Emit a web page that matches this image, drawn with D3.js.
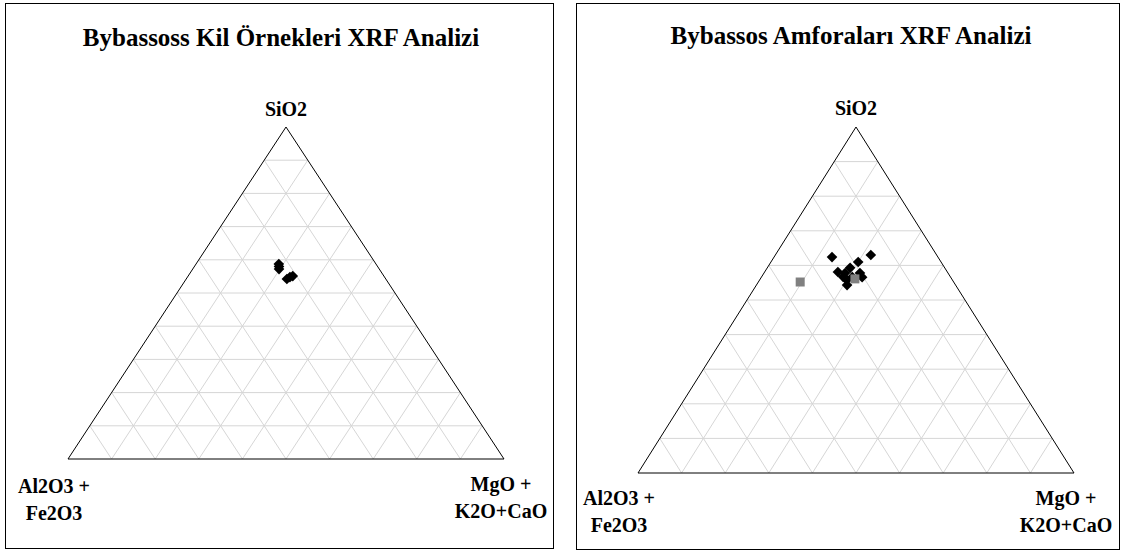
<!DOCTYPE html>
<html>
<meta charset="utf-8">
<head>
<title>Bybassos XRF ternary</title>
<script src="https://cdnjs.cloudflare.com/ajax/libs/d3/7.8.5/d3.min.js"></script>
<style>
    body { margin: 0; background: #fff; }
</style>
</head>

<body>
<script>

const width = 1123,
    height = 552;

const serif = "'Liberation Serif', 'Times New Roman', 'DejaVu Serif', serif";

// Grid steps in percent
const gridSteps = [10, 20, 30, 40, 50, 60, 70, 80, 90];

// Corner names
const topLabel = "SiO2";
const leftLabel = ["Al2O3 +", "Fe2O3"];
const rightLabel = ["MgO +", "K2O+CaO"];

// Samples as [SiO2, Al2O3+Fe2O3, MgO+K2O+CaO] in percent
const clayPoints = [
    [58.7, 22.3, 19.0],
    [58.0, 22.6, 19.4],
    [57.2, 23.0, 19.8],
    [54.8, 21.7, 23.5],
    [55.1, 20.9, 24.0],
    [54.2, 22.7, 23.1]
];

const amphoraPoints = [
    [62.4, 24.3, 13.3],
    [63.0, 15.1, 21.9],
    [61.0, 19.0, 20.0],
    [59.3, 21.7, 19.0],
    [58.1, 25.1, 16.8],
    [57.8, 23.6, 18.6],
    [56.7, 24.6, 18.7],
    [55.8, 24.2, 20.0],
    [57.8, 20.2, 22.0],
    [56.6, 20.3, 23.1],
    [56.6, 22.5, 20.8],
    [54.3, 24.9, 20.8]
];

const amphoraGreyPoints = [
    [55.2, 35.2, 9.6],
    [56.1, 22.2, 21.7]
];

const svg = d3.select("body")
    .append("svg")
    .attr("width", width)
    .attr("height", height);

function drawPanel(p) {
    const g = svg.append("g");

    // Frame
    g.append("rect")
        .attr("x", p.box[0] + 0.5)
        .attr("y", p.box[1] + 0.5)
        .attr("width", p.box[2])
        .attr("height", p.box[3])
        .attr("fill", "#fff")
        .attr("stroke", "#000")
        .attr("stroke-width", 1);

    const x = d3.scaleLinear().domain([0, 1]).range([p.left, p.right]);
    const y = d3.scaleLinear().domain([0, 1]).range([p.base, p.top]);

    // s = SiO2, a = Al2O3+Fe2O3, m = MgO+K2O+CaO
    function project(s, a, m) {
        const t = s + a + m;
        s /= t; m /= t;
        return [x(m + s / 2), y(s)];
    }

    // Grid lines
    const gridLines = [];
    for (const v of gridSteps) {
        const f = v / 100;
        gridLines.push([project(f, 1 - f, 0), project(f, 0, 1 - f)]);
        gridLines.push([project(0, 1 - f, f), project(1 - f, 0, f)]);
        gridLines.push([project(0, f, 1 - f), project(1 - f, f, 0)]);
    }
    g.selectAll(".grid")
        .data(gridLines)
        .enter()
        .append("line")
        .attr("class", "grid")
        .attr("x1", d => d[0][0])
        .attr("y1", d => d[0][1])
        .attr("x2", d => d[1][0])
        .attr("y2", d => d[1][1])
        .attr("stroke", "#d6d6d6")
        .attr("stroke-width", 1);

    // Triangle outline
    const corners = [project(1, 0, 0), project(0, 1, 0), project(0, 0, 1)];
    g.append("path")
        .attr("d", "M" + corners.join("L") + "Z")
        .attr("fill", "none")
        .attr("stroke", "#000")
        .attr("stroke-width", 1);

    // Points
    const diamond = d3.symbol().type(d3.symbolDiamond2 || d3.symbolDiamond).size(72);
    g.selectAll(".pt")
        .data(p.points)
        .enter()
        .append("path")
        .attr("class", "pt")
        .attr("transform", d => "translate(" + project(d[0], d[1], d[2]) + ")")
        .attr("d", diamond)
        .attr("fill", "#000");

    if (p.greyPoints) {
        const square = d3.symbol().type(d3.symbolSquare).size(81);
        g.selectAll(".sq")
            .data(p.greyPoints)
            .enter()
            .append("path")
            .attr("class", "sq")
            .attr("transform", d => "translate(" + project(d[0], d[1], d[2]) + ")")
            .attr("d", square)
            .attr("fill", "#808080");
    }

    // Title and corner labels
    g.append("text")
        .attr("x", p.titleX)
        .attr("y", p.titleY)
        .attr("text-anchor", "middle")
        .attr("font-family", serif)
        .attr("font-weight", "bold")
        .attr("font-size", "25px")
        .text(p.title);

    g.append("text")
        .attr("x", x(0.5))
        .attr("y", p.topLabelY)
        .attr("text-anchor", "middle")
        .attr("font-family", serif)
        .attr("font-weight", "bold")
        .attr("font-size", "20px")
        .text(topLabel);

    g.selectAll(".lbl-left")
        .data(leftLabel)
        .enter()
        .append("text")
        .attr("class", "lbl-left")
        .attr("x", p.leftLabelX)
        .attr("y", (d, i) => p.leftLabelY + i * 27)
        .attr("text-anchor", "middle")
        .attr("font-family", serif)
        .attr("font-weight", "bold")
        .attr("font-size", "20px")
        .text(d => d);

    g.selectAll(".lbl-right")
        .data(rightLabel)
        .enter()
        .append("text")
        .attr("class", "lbl-right")
        .attr("x", p.rightLabelX)
        .attr("y", (d, i) => p.rightLabelY + i * 27)
        .attr("text-anchor", "middle")
        .attr("font-family", serif)
        .attr("font-weight", "bold")
        .attr("font-size", "20px")
        .text(d => d);
}

drawPanel({
    box: [5, 3, 548, 545],
    left: 68, right: 504, top: 127, base: 459,
    title: "Bybassoss Kil Örnekleri XRF Analizi",
    titleX: 281, titleY: 46,
    topLabelY: 116,
    leftLabelX: 54, leftLabelY: 493,
    rightLabelX: 501, rightLabelY: 491,
    points: clayPoints
});

drawPanel({
    box: [576, 3, 543, 546],
    left: 638, right: 1074, top: 127, base: 473,
    title: "Bybassos Amforaları XRF Analizi",
    titleX: 851, titleY: 44,
    topLabelY: 115,
    leftLabelX: 619, leftLabelY: 505,
    rightLabelX: 1066, rightLabelY: 505,
    points: amphoraPoints,
    greyPoints: amphoraGreyPoints
});

</script>

</body>
</html>
